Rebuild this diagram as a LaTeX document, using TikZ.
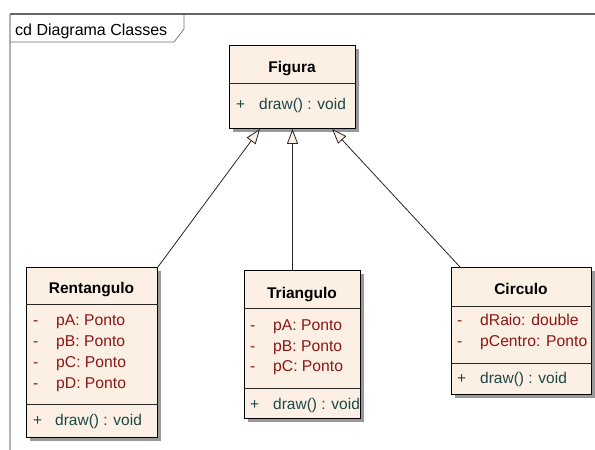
\documentclass[tikz,border=0pt]{standalone}
\usepackage{fontspec}
\setmainfont{Liberation Sans}
\usetikzlibrary{shadows,arrows.meta,calc}
\definecolor{cream}{RGB}{251,240,227}
\definecolor{attrc}{RGB}{140,22,22}
\definecolor{methc}{RGB}{28,72,72}
\begin{document}
\begin{tikzpicture}[x=1pt,y=-1pt,
  classbox/.style={draw=black, line width=0.9pt, fill=cream, inner sep=0pt, anchor=north west,
    drop shadow={shadow xshift=3.5pt, shadow yshift=-3.5pt, fill=black!50, opacity=0.8}},
  sep/.style={draw=black!85, line width=0.8pt},
  ttl/.style={anchor=base, inner sep=0pt, font=\fontsize{15.5}{18}\selectfont\bfseries},
  vis/.style={anchor=base west, inner sep=0pt, font=\fontsize{15.5}{18}\selectfont},
  attr/.style={vis, text=attrc, font=\fontsize{15.7}{18}\selectfont},
  meth/.style={vis, text=methc},
  gen/.style={draw=black!85, line width=0.8pt, -{Triangle[length=15pt, width=11pt, fill=cream]}}
]
\useasboundingbox (0,0) rectangle (595,450);
\fill[white] (0,0) rectangle (595,450);
% frame
\draw[black!30, line width=1.5pt] (10,14) -- (10,450);
\draw[black!60, line width=1.3pt] (10,14) -- (595,14);
\draw[black!55, line width=0.7pt] (184,14) -- (184,29) -- (174,42) -- (10,42);
\node[vis, text=black, font=\fontsize{16}{18}\selectfont] (frm) at (15,35.5) {cd Diagrama Classes};

% Figura
\node[classbox, minimum width=126pt, minimum height=83pt] (fig) at (229,45) {};
\draw[sep] ($(fig.north west)+(0,38)$) -- ($(fig.north east)+(0,38)$);
\node[ttl] (figT) at (292,72.5) {Figura};
\node[meth] (figP) at (236,109) {+};
\node[meth] (figM) at (259,109) {draw() : void};

% Rentangulo
\node[classbox, minimum width=131pt, minimum height=170pt] (rect) at (26,267) {};
\draw[sep] ($(rect.north west)+(0,37)$) -- ($(rect.north east)+(0,37)$);
\draw[sep] ($(rect.north west)+(0,137)$) -- ($(rect.north east)+(0,137)$);
\node[ttl] (rectT) at (91.5,293.5) {Rentangulo};
\node[attr] (r1m) at (33,325.7) {-};
\node[attr] (r1) at (56,325.7) {pA: Ponto};
\node[attr] (r2m) at (33,346.7) {-};
\node[attr] (r2) at (56,346.7) {pB: Ponto};
\node[attr] (r3m) at (33,367.5) {-};
\node[attr] (r3) at (56,367.5) {pC: Ponto};
\node[attr] (r4m) at (33,388.3) {-};
\node[attr] (r4) at (56,388.3) {pD: Ponto};
\node[meth] (rP) at (33,425.7) {+};
\node[meth] (rM) at (55,425.7) {draw() : void};

% Triangulo
\node[classbox, minimum width=116pt, minimum height=148pt] (tri) at (244,270) {};
\draw[sep] ($(tri.north west)+(0,38)$) -- ($(tri.north east)+(0,38)$);
\draw[sep] ($(tri.north west)+(0,118)$) -- ($(tri.north east)+(0,118)$);
\node[ttl] (triT) at (302,298.3) {Triangulo};
\node[attr] (t1m) at (250,330.7) {-};
\node[attr] (t1) at (273,330.7) {pA: Ponto};
\node[attr] (t2m) at (250,351) {-};
\node[attr] (t2) at (273,351) {pB: Ponto};
\node[attr] (t3m) at (250,371) {-};
\node[attr] (t3) at (273,371) {pC: Ponto};
\node[meth] (tP) at (250,409) {+};
\node[meth] (tM) at (273,409) {draw() : void};

% Circulo
\node[classbox, minimum width=140pt, minimum height=127pt] (circ) at (451,267) {};
\draw[sep] ($(circ.north west)+(0,39)$) -- ($(circ.north east)+(0,39)$);
\draw[sep] ($(circ.north west)+(0,96)$) -- ($(circ.north east)+(0,96)$);
\node[ttl] (circT) at (521,294.3) {Circulo};
\node[attr] (c1m) at (457,325.7) {-};
\node[attr] (c1) at (480,325.7) {dRaio: double};
\node[attr] (c2m) at (457,346) {-};
\node[attr] (c2) at (480,346) {pCentro: Ponto};
\node[meth] (cP) at (457,383.3) {+};
\node[meth] (cM) at (480,383.3) {draw() : void};

% connectors
\coordinate (fA) at ($(fig.south west)+(31,0)$);
\coordinate (fB) at ($(fig.south west)+(63.5,0)$);
\coordinate (fC) at ($(fig.south west)+(103,0)$);
\coordinate (tTop) at ($(tri.north west)+(48.5,0)$);
\coordinate (cTop) at ($(circ.north west)+(9,0)$);
\draw[gen] (rect.north east) -- (fA);
\draw[gen] (tTop) -- (fB);
\draw[gen] (cTop) -- (fC);
\end{tikzpicture}
\end{document}
